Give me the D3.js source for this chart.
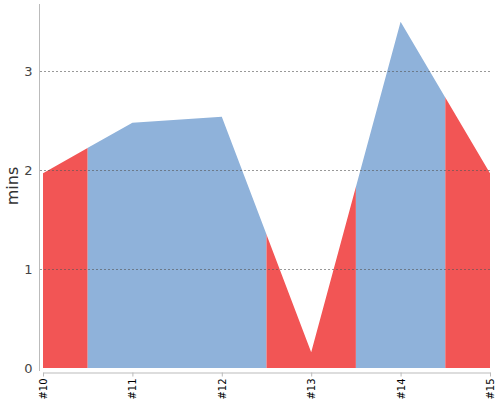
<!DOCTYPE html>
<html><head><meta charset="utf-8">
<script src="https://cdn.jsdelivr.net/npm/d3@7"></script>
<style>body{margin:0;background:#fff;} svg{display:block;font-family:"DejaVu Sans",sans-serif;}</style>
</head><body>
<svg id="c" width="500" height="400"></svg>
<script>
const categories = ["#10","#11","#12","#13","#14","#15"];
const values = [1.97, 2.48, 2.54, 0.16, 3.50, 1.97];
const pointColors = ["red","blue","blue","red","blue","red"];
const yTicks = [0,1,2,3];
const palette = {red:"#f25555", blue:"#8fb2da"};

const svg = d3.select("#c");
const n = categories.length;
const x = d3.scaleLinear().domain([0, n-1]).range([43, 490]);
const y = d3.scaleLinear().domain([0, 3.68]).range([368, 4]);

// group consecutive points of the same colour into runs
const runs = [];
pointColors.forEach((c,i)=>{
  const last = runs[runs.length-1];
  if (last && last.color === c) last.end = i; else runs.push({color:c, start:i, end:i});
});

const area = d3.area().x((d,i)=>x(i)).y0(y(0)).y1(d=>y(d));
const defs = svg.append("defs");
runs.forEach((r,k)=>{
  const x0 = Math.max(x(r.start-0.5), x(0)), x1 = Math.min(x(r.end+0.5), x(n-1));
  defs.append("clipPath").attr("id","clip"+k).append("rect")
    .attr("x", x0).attr("y", 0).attr("width", x1-x0).attr("height", 400);
  svg.append("path").datum(values).attr("d", area)
    .attr("fill", palette[r.color])
    .attr("clip-path", `url(#clip${k})`);
});

// gridlines
svg.append("g").selectAll("line").data(yTicks.filter(t=>t>0)).join("line")
  .attr("x1", 40).attr("x2", 490)
  .attr("y1", d=>Math.round(y(d))+0.5).attr("y2", d=>Math.round(y(d))+0.5)
  .attr("stroke", "#555").attr("stroke-opacity",0.6).attr("stroke-dasharray","2,2");

// y axis
const yAxis = svg.append("g").attr("transform","translate(39.5,0)")
  .call(d3.axisLeft(y).tickValues(yTicks).tickSize(0).tickPadding(7).tickFormat(d3.format("d")));
yAxis.select(".domain").attr("d", `M0,${y(3.68)}V${y(0)+3}`).attr("stroke","#bbb");
yAxis.selectAll("text").attr("font-size", 13).attr("fill","#444").attr("font-family","DejaVu Sans, sans-serif");

// x axis
const xAxis = svg.append("g").attr("transform","translate(0,372.5)")
  .call(d3.axisBottom(x).tickValues(d3.range(n)).tickSize(4).tickSizeOuter(0)
    .tickFormat(i=>categories[i]));
xAxis.select(".domain").attr("stroke","#bbb");
xAxis.selectAll(".tick line").attr("stroke","#bbb");
xAxis.selectAll("text").attr("font-size", 10).attr("fill","#000")
  .attr("font-family","DejaVu Sans, sans-serif")
  .attr("transform","rotate(-90)").attr("text-anchor","end")
  .attr("x", -6).attr("y", 0).attr("dy","0.35em");

// y label
svg.append("text").attr("transform","translate(18,186) rotate(-90)")
  .attr("text-anchor","middle").attr("font-size",16).attr("fill","#333")
  .text("mins");
</script>
</body></html>
